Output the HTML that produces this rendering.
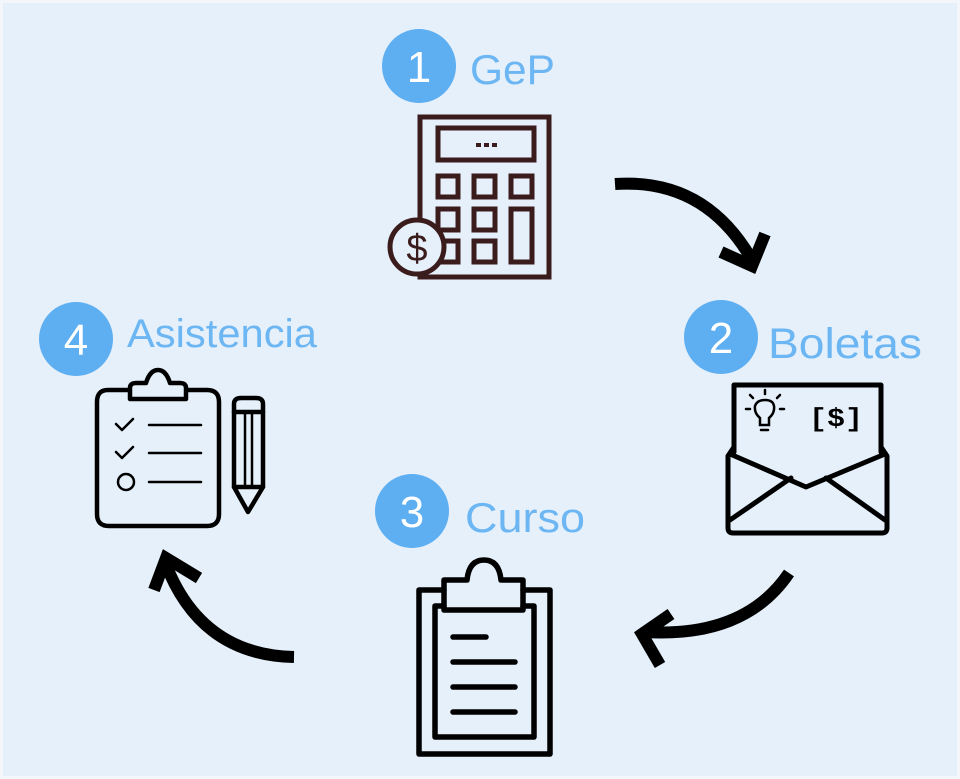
<!DOCTYPE html>
<html>
<head>
<meta charset="utf-8">
<style>
html,body{margin:0;padding:0;background:#fff;}
svg{display:block;}
.lbl{font-family:"Liberation Sans",sans-serif;fill:#6cb6f3;font-weight:normal;}
.num{font-family:"Liberation Sans",sans-serif;fill:#ffffff;text-anchor:middle;}
</style>
</head>
<body>
<svg width="960" height="779" viewBox="0 0 960 779" xmlns="http://www.w3.org/2000/svg">
  <rect x="0" y="0" width="960" height="779" fill="#f3f7fb"/>
  <rect x="3" y="3" width="954" height="773" fill="#e5f0fa"/>

  <!-- Badges & labels -->
  <circle cx="419" cy="66" r="37" fill="#5eaef2"/>
  <text class="num" x="419" y="82" font-size="44">1</text>
  <text class="lbl" x="470" y="84" font-size="42" textLength="85" lengthAdjust="spacingAndGlyphs">GeP</text>

  <circle cx="721" cy="337" r="37" fill="#5eaef2"/>
  <text class="num" x="721" y="353" font-size="44">2</text>
  <text class="lbl" x="768" y="358" font-size="43" textLength="154" lengthAdjust="spacingAndGlyphs">Boletas</text>

  <circle cx="412" cy="511" r="37" fill="#5eaef2"/>
  <text class="num" x="412" y="527" font-size="44">3</text>
  <text class="lbl" x="465" y="532" font-size="42" textLength="120" lengthAdjust="spacingAndGlyphs">Curso</text>

  <circle cx="76" cy="339" r="37" fill="#5eaef2"/>
  <text class="num" x="76" y="355" font-size="44">4</text>
  <text class="lbl" x="127" y="347" font-size="40" textLength="190" lengthAdjust="spacingAndGlyphs">Asistencia</text>

  <!-- Calculator -->
  <g fill="none" stroke="#3b1c1c" stroke-width="5">
    <rect x="420" y="117" width="129" height="160"/>
    <rect x="438" y="128" width="96" height="32"/>
    <rect x="438" y="176" width="20" height="21"/>
    <rect x="474" y="176" width="21" height="21"/>
    <rect x="511" y="176" width="21" height="21"/>
    <rect x="438" y="209" width="20" height="21"/>
    <rect x="474" y="209" width="21" height="21"/>
    <rect x="511" y="209" width="21" height="53"/>
    <rect x="438" y="241" width="20" height="21"/>
    <rect x="474" y="241" width="21" height="21"/>
  </g>
  <g fill="#3b1c1c">
    <rect x="476" y="143" width="5" height="4"/>
    <rect x="484" y="143" width="5" height="4"/>
    <rect x="492" y="143" width="5" height="4"/>
  </g>
  <circle cx="417" cy="247" r="27" fill="#e5f0fa" stroke="#3b1c1c" stroke-width="5"/>
  <text x="417" y="261" font-family="Liberation Sans,sans-serif" font-size="38" fill="#3b1c1c" text-anchor="middle">$</text>

  <!-- Envelope -->
  <g fill="none" stroke="#000" stroke-width="5" stroke-linejoin="round" stroke-linecap="round">
    <path d="M734 452 L734 385 L881 385 L881 452"/>
    <path d="M734 447 L728 456 L728 528 Q728 533 733 533 L882 533 Q887 533 887 528 L887 456 L881 447"/>
    <path d="M730 454 L806 487 L885 454"/>
    <path d="M730 520 L791 478"/>
    <path d="M885 520 L826 478"/>
  </g>
  <!-- bulb -->
  <g fill="none" stroke="#000" stroke-width="2.5" stroke-linecap="round">
    <path d="M760 425 L760 418 Q754 413 755 406 Q757 400 765 400 Q773 400 774 406 Q775 413 769 418 L769 425 Z"/>
    <line x1="761" y1="430" x2="768" y2="430"/>
    <line x1="765" y1="390" x2="765" y2="394"/>
    <line x1="750" y1="395" x2="753" y2="398"/>
    <line x1="780" y1="395" x2="777" y2="398"/>
    <line x1="746" y1="409" x2="750" y2="409"/>
    <line x1="780" y1="409" x2="784" y2="409"/>
  </g>
  <text x="809" y="426" font-family="Liberation Mono,monospace" font-weight="bold" font-size="26" fill="#000" textLength="54" lengthAdjust="spacingAndGlyphs">[$]</text>

  <!-- Clipboard 4 with pencil -->
  <g fill="none" stroke="#000" stroke-width="4.5" stroke-linecap="round" stroke-linejoin="round">
    <path d="M128 390 L108 390 Q97 390 97 402 L97 514 Q97 526 109 526 L207 526 Q219 526 219 514 L219 402 Q219 390 207 390 L187 390"/>
    <path d="M130 399 L130 388 Q130 383 136 383 L146 383 Q150 370 158 370 Q166 370 170 383 L180 383 Q186 383 186 388 L186 399 Z"/>
    <path d="M234 404 Q234 398 241 398 L256 398 Q263 398 263 404 L263 487 L248 512 L234 487 Z"/>
    <line x1="234" y1="412" x2="263" y2="412"/>
    <line x1="234" y1="487" x2="263" y2="487"/>
  </g>
  <g fill="none" stroke="#000" stroke-width="2.5" stroke-linecap="round" stroke-linejoin="round">
    <path d="M116 424 L122 430 L133 419"/>
    <path d="M116 452 L122 458 L133 447"/>
    <circle cx="126" cy="482" r="8"/>
    <line x1="149" y1="425" x2="201" y2="425"/>
    <line x1="149" y1="453" x2="201" y2="453"/>
    <line x1="149" y1="482" x2="201" y2="482"/>
    <line x1="245" y1="414" x2="245" y2="485"/>
    <line x1="252" y1="414" x2="252" y2="485"/>
  </g>

  <!-- Clipboard 3 -->
  <g fill="none" stroke="#000" stroke-width="5.5" stroke-linecap="round" stroke-linejoin="round">
    <path d="M444 590 L419 590 L419 754 L550 754 L550 590 L523 590"/>
    <path d="M444 606 L435 606 L435 737 L534 737 L534 606 L523 606"/>
    <path d="M444 610 L444 580 L467 580 Q469 560 484 560 Q499 560 501 580 L523 580 L523 610 Z"/>
    <line x1="453" y1="637" x2="486" y2="637"/>
    <line x1="453" y1="662" x2="515" y2="662"/>
    <line x1="453" y1="687" x2="515" y2="687"/>
    <line x1="453" y1="712" x2="515" y2="712"/>
  </g>

  <!-- Arrows -->
  <g fill="none" stroke="#000" stroke-width="12" stroke-linejoin="miter">
    <path d="M615 184 Q705 178 752 260"/>
    <path d="M721 252 L752 266 L765 234"/>
    <path d="M789 573 Q745 638 645 632"/>
    <path d="M671 614 L642 634 L660 665"/>
    <path d="M294 657 Q200 655 165 562"/>
    <path d="M154 590 L166 558 L199 578"/>
  </g>
</svg>
</body>
</html>
